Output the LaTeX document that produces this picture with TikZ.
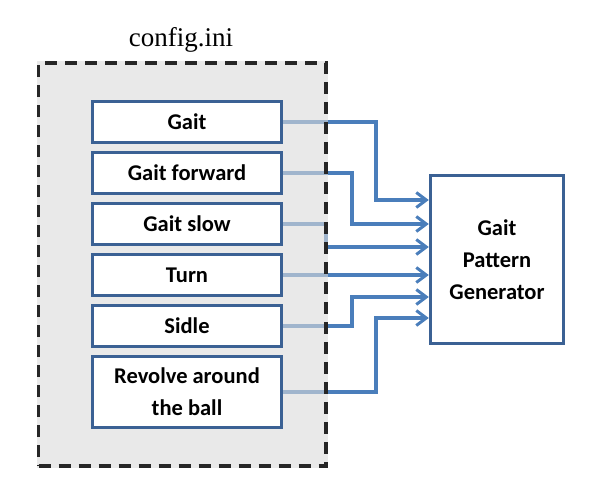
\documentclass[tikz,border=0pt]{standalone}
\usepackage{fontspec}
\setmainfont{Carlito}
\newfontfamily\tnr{Liberation Serif}
\usetikzlibrary{arrows.meta,backgrounds}
\definecolor{boxblue}{HTML}{3B6194}
\definecolor{linkblue}{HTML}{4A7EBB}
\definecolor{panelgray}{HTML}{DADADA}
\definecolor{dashgray}{HTML}{262626}
\tikzset{
  item/.style={draw=boxblue, line width=3.4pt, fill=white, minimum width=189pt, minimum height=41pt,
    inner sep=0pt, align=center, font=\fontsize{22.5}{32}\selectfont\bfseries},
  genbox/.style={draw=boxblue, line width=3.4pt, fill=white, minimum width=133pt, minimum height=168pt,
    inner sep=0pt, align=center, font=\fontsize{22.5}{32}\selectfont\bfseries},
  conn/.style={draw=linkblue, line width=3.2pt, -{Straight Barb[length=10pt,width=15pt,line width=3pt]}},
  panel/.style={draw=dashgray, line width=3.2pt, dash pattern=on 12pt off 8pt, inner sep=0pt},
}
\begin{document}
\begin{tikzpicture}[x=1pt,y=-1pt]
\useasboundingbox (0,0) rectangle (596,490);
\node[item] (g1) at (187,122) {Gait};
\node[item] (g2) at (187,173) {Gait forward};
\node[item] (g3) at (187,224) {Gait slow};
\node[item] (g4) at (187,275) {Turn};
\node[item] (g5) at (187,326) {Sidle};
\node[item, minimum height=71pt] (g6) at (187,392) {Revolve around\\the ball};
\node[genbox] (gen) at (497,259.5) {Gait\\Pattern\\Generator};
\node[panel, minimum width=287.5pt, minimum height=403pt] (panel) at (182.25,264.5) {};
\node[font=\tnr\fontsize{27}{30}\selectfont] (title) at (181,40) {config.ini};
\begin{scope}[on background layer]
\draw[conn] (g1.east) -| (376,200) -- (gen.west |- 0,200);
\draw[conn] (g2.east) -| (352,224) -- (gen.west |- 0,224);
\draw[conn] (g3.east) -| (326,247) -- (gen.west |- 0,247);
\draw[conn] (g4.east) -- (gen.west |- 0,275);
\draw[conn] (g5.east) -| (352,297) -- (gen.west |- 0,297);
\draw[conn] (g6.east) -| (376,318) -- (gen.west |- 0,318);
\fill[panelgray, fill opacity=0.6] (panel.north west) rectangle (panel.south east);
\end{scope}
\end{tikzpicture}
\end{document}
